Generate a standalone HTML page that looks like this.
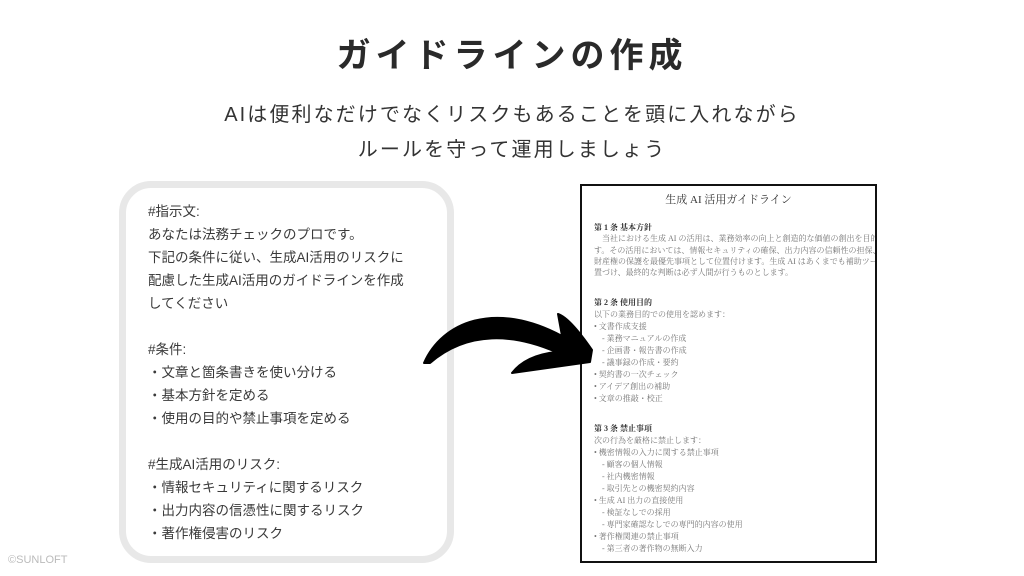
<!DOCTYPE html>
<html><head><meta charset="utf-8"><style>
*{margin:0;padding:0;box-sizing:border-box}
body{width:1024px;height:576px;background:#fff;position:relative;overflow:hidden;font-family:"Liberation Sans","Noto Sans CJK JP",sans-serif;color:#333}
.t{position:absolute;white-space:nowrap}
#title{left:0;width:1024px;text-align:center;top:28px;font-size:34px;font-weight:bold;letter-spacing:5px;color:#2a2a2a}
.sub{left:0;width:1024px;text-align:center;font-size:20px;letter-spacing:2.1px;color:#333}
#box{position:absolute;left:119px;top:181px;width:335px;height:382px;border:7px solid #e8e8e8;border-radius:32px;background:#fff}
.lt{position:absolute;left:148px;font-size:13.5px;color:#3a3a3a;white-space:nowrap;line-height:16px}
#doc{position:absolute;left:580px;top:184px;width:297px;height:379px;border:2px solid #111;background:#fff;overflow:hidden;font-family:"Liberation Serif","Noto Serif CJK SC",serif}
.d{position:absolute;left:12px;font-size:8px;color:#777;white-space:nowrap;line-height:10px}
.h{color:#333;font-weight:bold}
</style></head><body>
<div class="t" id="title">ガイドラインの作成</div>
<div class="t sub" style="top:98px">AIは便利なだけでなくリスクもあることを頭に入れながら</div>
<div class="t sub" style="top:133px">ルールを守って運用しましょう</div>
<div id="box"></div>
<div class="lt" style="top:204px">#指示文:</div>
<div class="lt" style="top:227px">あなたは法務チェックのプロです。</div>
<div class="lt" style="top:250px">下記の条件に従い、生成AI活用のリスクに</div>
<div class="lt" style="top:273px">配慮した生成AI活用のガイドラインを作成</div>
<div class="lt" style="top:296px">してください</div>
<div class="lt" style="top:342px">#条件:</div>
<div class="lt" style="top:365px">・文章と箇条書きを使い分ける</div>
<div class="lt" style="top:388px">・基本方針を定める</div>
<div class="lt" style="top:411px">・使用の目的や禁止事項を定める</div>
<div class="lt" style="top:457px">#生成AI活用のリスク:</div>
<div class="lt" style="top:480px">・情報セキュリティに関するリスク</div>
<div class="lt" style="top:503px">・出力内容の信憑性に関するリスク</div>
<div class="lt" style="top:526px">・著作権侵害のリスク</div>
<div id="doc">
<div class="d h" style="left:0;width:293px;text-align:center;top:8px;font-size:11px;line-height:13px;font-weight:normal;color:#333">生成 AI 活用ガイドライン</div>
<div class="d h" style="top:37px">第 1 条 基本方針</div>
<div class="d" style="top:48px">　当社における生成 AI の活用は、業務効率の向上と創造的な価値の創出を目的としています。</div>
<div class="d" style="top:60px">す。その活用においては、情報セキュリティの確保、出力内容の信頼性の担保、および知的</div>
<div class="d" style="top:71px">財産権の保護を最優先事項として位置付けます。生成 AI はあくまでも補助ツールとして位</div>
<div class="d" style="top:82px">置づけ、最終的な判断は必ず人間が行うものとします。</div>
<div class="d h" style="top:112px">第 2 条 使用目的</div>
<div class="d" style="top:124px">以下の業務目的での使用を認めます：</div>
<div class="d" style="top:136px">• 文書作成支援</div>
<div class="d" style="top:148px">　- 業務マニュアルの作成</div>
<div class="d" style="top:160px">　- 企画書・報告書の作成</div>
<div class="d" style="top:172px">　- 議事録の作成・要約</div>
<div class="d" style="top:184px">• 契約書の一次チェック</div>
<div class="d" style="top:196px">• アイデア創出の補助</div>
<div class="d" style="top:208px">• 文章の推敲・校正</div>
<div class="d h" style="top:238px">第 3 条 禁止事項</div>
<div class="d" style="top:250px">次の行為を厳格に禁止します：</div>
<div class="d" style="top:262px">• 機密情報の入力に関する禁止事項</div>
<div class="d" style="top:274px">　- 顧客の個人情報</div>
<div class="d" style="top:286px">　- 社内機密情報</div>
<div class="d" style="top:298px">　- 取引先との機密契約内容</div>
<div class="d" style="top:310px">• 生成 AI 出力の直接使用</div>
<div class="d" style="top:322px">　- 検証なしでの採用</div>
<div class="d" style="top:334px">　- 専門家確認なしでの専門的内容の使用</div>
<div class="d" style="top:346px">• 著作権関連の禁止事項</div>
<div class="d" style="top:358px">　- 第三者の著作物の無断入力</div>
</div>
<svg style="position:absolute;left:0;top:0" width="1024" height="576">
<path d="M424,363 C442,322 495,300 562,336 L558,314 Q570,318 592,350 L590,362 L512,373 C522,360 538,354 556,352 C515,334 468,330 430,363 Z" fill="#000" stroke="#000" stroke-width="2" stroke-linejoin="round"/>
</svg>
<div class="t" style="left:8px;top:554px;font-size:11px;color:#bbb">©SUNLOFT</div>
</body></html>
